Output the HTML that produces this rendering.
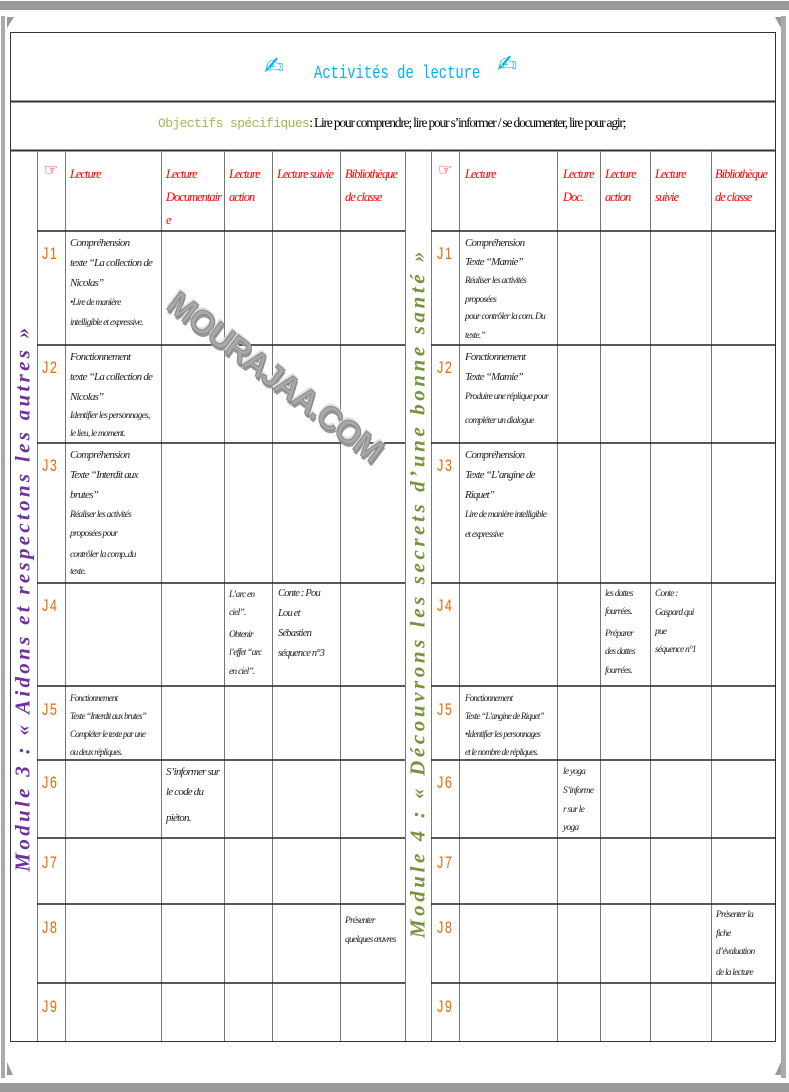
<!DOCTYPE html>
<html><head><meta charset="utf-8"><style>
*{margin:0;padding:0;box-sizing:border-box}
body{width:789px;height:1092px;position:relative;background:#fff;overflow:hidden;font-family:"Liberation Serif",serif}
.a{position:absolute;white-space:nowrap}
.h{position:absolute;color:#f00;font-style:italic;font-size:12.5px;line-height:23px;letter-spacing:-1px}
.j{position:absolute;color:#e36c09;font-family:"Liberation Sans",sans-serif;font-size:17px;letter-spacing:2px;transform:scaleX(0.75);transform-origin:left}
.t{position:absolute;font-style:italic;font-size:11px;letter-spacing:-0.8px;color:#222;white-space:nowrap}
.t div{height:20px;line-height:20px}
.s{font-size:9.5px}
.ic{position:absolute;font-family:"DejaVu Sans",sans-serif;font-size:24px;color:#00b0f0}
</style></head><body>
<!-- frame -->
<div class="a" style="left:0;top:1px;width:789px;height:9px;background:#9a9a9a"></div>
<div class="a" style="left:0;top:1083px;width:789px;height:9px;background:#9a9a9a"></div>
<div class="a" style="left:1px;top:16px;width:4px;height:1062px;background:#aaa"></div>
<div class="a" style="left:781px;top:16px;width:5px;height:1062px;background:#aaa"></div>
<svg class="a" style="left:0;top:0" width="789" height="1092">
<polygon points="7,17 14,17 7,28" fill="#999"/><polygon points="775,17 781,17 781,28" fill="#999"/>
<polygon points="7,1062 7,1075 13,1075" fill="#999"/><polygon points="781,1062 781,1075 775,1075" fill="#999"/>
<g stroke="#333" fill="none">
<rect x="10.5" y="32.5" width="765" height="1009" stroke-width="1"/>
<line x1="10" y1="101.5" x2="776" y2="101.5" stroke-width="2"/>
<line x1="10" y1="150.5" x2="776" y2="150.5" stroke-width="2"/>
</g>
<g stroke="#777" stroke-width="1">
<line x1="37.5" y1="151" x2="37.5" y2="1041"/><line x1="65.5" y1="151" x2="65.5" y2="1041"/>
<line x1="161.5" y1="151" x2="161.5" y2="1041"/><line x1="224.5" y1="151" x2="224.5" y2="1041"/>
<line x1="272.5" y1="151" x2="272.5" y2="1041"/><line x1="340.5" y1="151" x2="340.5" y2="1041"/>
<line x1="405.5" y1="151" x2="405.5" y2="1041"/><line x1="431.5" y1="151" x2="431.5" y2="1041"/>
<line x1="459.5" y1="151" x2="459.5" y2="1041"/><line x1="557.5" y1="151" x2="557.5" y2="1041"/>
<line x1="600.5" y1="151" x2="600.5" y2="1041"/><line x1="650.5" y1="151" x2="650.5" y2="1041"/>
<line x1="711.5" y1="151" x2="711.5" y2="1041"/>
</g>
<g stroke="#222" stroke-width="1.6">
<line x1="37" y1="231" x2="405" y2="231"/><line x1="431" y1="231" x2="776" y2="231"/>
<line x1="37" y1="345" x2="405" y2="345"/><line x1="431" y1="345" x2="776" y2="345"/>
<line x1="37" y1="443" x2="405" y2="443"/><line x1="431" y1="443" x2="776" y2="443"/>
<line x1="37" y1="583" x2="405" y2="583"/><line x1="431" y1="583" x2="776" y2="583"/>
<line x1="37" y1="686" x2="405" y2="686"/><line x1="431" y1="686" x2="776" y2="686"/>
<line x1="37" y1="760" x2="405" y2="760"/><line x1="431" y1="760" x2="776" y2="760"/>
<line x1="37" y1="838" x2="405" y2="838"/><line x1="431" y1="838" x2="776" y2="838"/>
<line x1="37" y1="904" x2="405" y2="904"/><line x1="431" y1="904" x2="776" y2="904"/>
<line x1="37" y1="983" x2="405" y2="983"/><line x1="431" y1="983" x2="776" y2="983"/>
</g>
</svg>
<!-- title -->
<div class="ic" style="left:264px;top:52px">✍&#xFE0E;</div>
<div class="a" style="left:314px;top:64px;font-family:'Liberation Mono',monospace;font-size:18px;color:#00b0f0;transform:scaleX(0.77);transform-origin:left">Activités de lecture</div>
<div class="ic" style="left:497px;top:50px">✍&#xFE0E;</div>
<div class="a" style="left:158px;top:115px;font-size:13px;"><span style="font-family:'Liberation Mono',monospace;color:#9bbb59;letter-spacing:-0.6px">Objectifs spécifiques</span><span style="letter-spacing:-1.2px;font-size:13.5px">: Lire pour comprendre; lire pour s’informer / se documenter, lire pour agir;</span></div>
<!-- module labels -->
<div class="a" style="left:23px;top:598px;transform:translate(-50%,-50%) rotate(-90deg);font-style:italic;font-weight:bold;font-size:21px;letter-spacing:3.3px;color:#7030a0">Module 3 : « Aidons et respectons les autres »</div>
<div class="a" style="left:418px;top:593px;transform:translate(-50%,-50%) rotate(-90deg);font-style:italic;font-weight:bold;font-size:21px;letter-spacing:3.6px;color:#77933c">Module 4 : « Découvrons les secrets d’une bonne santé »</div>
<!-- headers -->
<div class="a" style="left:44px;top:160px;color:#f00;font-size:16px">☞</div>
<div class="h" style="left:70px;top:163px">Lecture</div>
<div class="h" style="left:166px;top:163px">Lecture<br>Documentair<br>e</div>
<div class="h" style="left:229px;top:163px">Lecture<br>action</div>
<div class="h" style="left:277px;top:163px">Lecture suivie</div>
<div class="h" style="left:345px;top:163px">Bibliothèque<br>de classe</div>
<div class="a" style="left:438px;top:160px;color:#f00;font-size:16px">☞</div>
<div class="h" style="left:465px;top:163px">Lecture</div>
<div class="h" style="left:563px;top:163px">Lecture<br>Doc.</div>
<div class="h" style="left:605px;top:163px">Lecture<br>action</div>
<div class="h" style="left:655px;top:163px">Lecture<br>suivie</div>
<div class="h" style="left:715px;top:163px">Bibliothèque<br>de classe</div>
<!-- J labels -->
<div class="j" style="left:42px;top:244px">J1</div><div class="j" style="left:437px;top:244px">J1</div>
<div class="j" style="left:42px;top:358px">J2</div><div class="j" style="left:437px;top:358px">J2</div>
<div class="j" style="left:42px;top:456px">J3</div><div class="j" style="left:437px;top:456px">J3</div>
<div class="j" style="left:42px;top:596px">J4</div><div class="j" style="left:437px;top:596px">J4</div>
<div class="j" style="left:42px;top:700px">J5</div><div class="j" style="left:437px;top:700px">J5</div>
<div class="j" style="left:42px;top:773px">J6</div><div class="j" style="left:437px;top:773px">J6</div>
<div class="j" style="left:42px;top:853px">J7</div><div class="j" style="left:437px;top:853px">J7</div>
<div class="j" style="left:42px;top:918px">J8</div><div class="j" style="left:437px;top:918px">J8</div>
<div class="j" style="left:42px;top:997px">J9</div><div class="j" style="left:437px;top:997px">J9</div>
<!-- left cells -->
<div class="t" style="left:70px;top:233px"><div>Compréhension</div><div>texte “La collection de</div><div>Nicolas”</div><div class="s">•Lire de manière</div><div class="s">intelligible et expressive.</div></div>
<div class="t" style="left:70px;top:347px"><div>Fonctionnement</div><div>texte “La collection de</div><div>Nicolas”</div><div class="s" style="height:18px;line-height:18px">Identifier les personnages,</div><div class="s" style="height:18px;line-height:18px">le lieu, le moment.</div></div>
<div class="t" style="left:70px;top:445px"><div>Compréhension</div><div>Texte “Interdit aux</div><div>brutes”</div><div class="s" style="height:19px">Réaliser les activités</div><div class="s" style="height:21px">proposées pour</div><div class="s">contrôler la comp..du</div><div class="s" style="height:14px;line-height:14px">texte.</div></div>
<div class="t s" style="left:229px;top:585px"><div style="height:18px">L’arc en</div><div style="height:22px">ciel”.</div><div style="height:18px">Obtenir</div><div style="height:19px">l’effet “arc</div><div>en ciel”.</div></div>
<div class="t" style="left:278px;top:584px;font-size:10.5px"><div>Conte : Pou</div><div>Lou et</div><div>Sébastien</div><div>séquence n°3</div></div>
<div class="t s" style="left:70px;top:688px;font-size:9px"><div style="height:18px">Fonctionnement</div><div style="height:18px">Texte “Interdit aux brutes”</div><div style="height:18px">Compléter le texte par une</div><div style="height:18px">ou deux répliques.</div></div>
<div class="t" style="left:166px;top:762px"><div>S’informer sur</div><div>le code du</div><div style="margin-top:6px">piéton.</div></div>
<div class="t s" style="left:345px;top:911px"><div style="height:19px">Présenter</div><div>quelques œuvres</div></div>
<!-- right cells -->
<div class="t s" style="left:465px;top:233px"><div style="height:19px;font-size:11px">Compréhension</div><div style="height:19px;font-size:11px">Texte “Mamie”</div><div style="height:19px">Réaliser les activités</div><div style="height:17px">proposées</div><div style="height:19px">pour contrôler la com. Du</div><div style="height:17px">texte.”</div></div>
<div class="t" style="left:465px;top:347px"><div>Fonctionnement</div><div>Texte “Mamie”</div><div class="s">Produire une réplique pour</div><div class="s" style="margin-top:4px">compléter un dialogue</div></div>
<div class="t" style="left:465px;top:445px"><div>Compréhension</div><div>Texte “L’angine de</div><div>Riquet”</div><div class="s">Lire de manière intelligible</div><div class="s">et expressive</div></div>
<div class="t s" style="left:605px;top:584px"><div style="height:18px">les dattes</div><div style="height:22px">fourrées.</div><div style="height:18px">Préparer</div><div style="height:19px">des dattes</div><div>fourrées.</div></div>
<div class="t s" style="left:655px;top:584px"><div style="height:19px">Conte :</div><div style="height:19px">Gaspard qui</div><div style="height:18px">pue</div><div>séquence n°1</div></div>
<div class="t s" style="left:465px;top:688px;font-size:9px"><div style="height:18px">Fonctionnement</div><div style="height:18px">Texte “L’angine de Riquet”</div><div style="height:18px">•Identifier les personnages</div><div style="height:18px">et le nombre de répliques.</div></div>
<div class="t s" style="left:563px;top:762px"><div style="height:19px">le yoga</div><div style="height:19px">S’informe</div><div style="height:18px">r sur le</div><div style="height:16px">yoga</div></div>
<div class="t s" style="left:716px;top:905px"><div style="height:19px">Présenter la</div><div style="height:18px">fiche</div><div style="height:21px">d’évaluation</div><div>de la lecture</div></div>
<!-- watermark -->
<div class="a" style="left:275px;top:377px;transform:translate(-50%,-50%) rotate(37deg);font-family:'Liberation Sans',sans-serif;font-weight:bold;font-size:33px;color:#a8a8a8;-webkit-text-stroke:1px #888;text-shadow:-2px -2px 0 #e0e0e0,2px 2px 0 #999;letter-spacing:-1.5px">MOURAJAA.COM</div>
</body></html>
